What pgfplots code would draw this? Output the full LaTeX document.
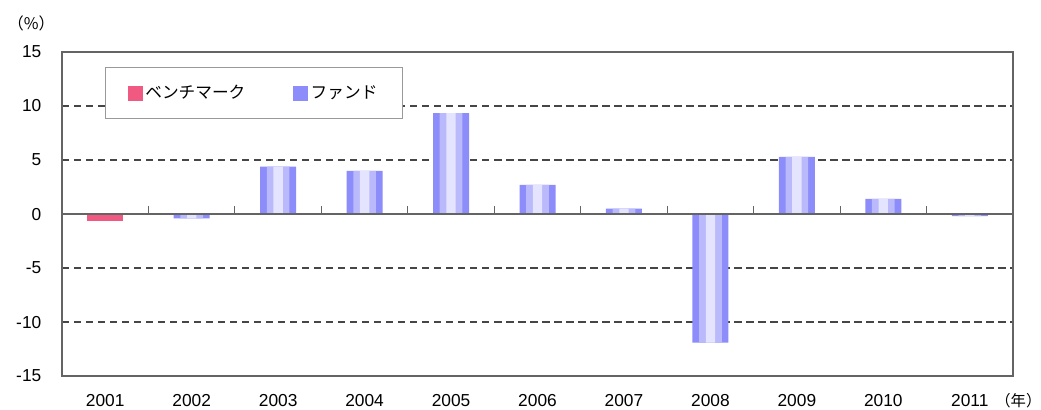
\documentclass[border=0pt]{standalone}
\usepackage{fontspec}
\setmainfont{Liberation Sans}
\newfontfamily\jp{Noto Sans CJK JP}
\usepackage{pgfplots}
\pgfplotsset{compat=1.18}

\definecolor{bench}{RGB}{240,90,130}
\definecolor{fundA}{RGB}{140,140,250}
\definecolor{fundB}{RGB}{185,185,252}
\definecolor{fundC}{RGB}{228,228,255}
\definecolor{fundM}{RGB}{170,170,250}
\definecolor{framec}{RGB}{100,100,100}
\definecolor{gridc}{RGB}{70,70,70}

\pgfplotstableread{
x y
1 -0.4
2 4.4
3 4.0
4 9.35
5 2.7
6 0.5
7 -11.9
8 5.3
9 1.4
10 -0.2
}\fund

\begin{document}
\begin{tikzpicture}
\pgfplotsset{base/.style={
    width=713pt, height=243pt, scale only axis,
    xmin=-0.5, xmax=10.5, ymin=-15, ymax=15}}
\begin{axis}[base, name=main,
    ybar, bar width=27pt, bar shift=0pt,
    ytick={-15,-10,...,15},
    xtick={0,...,10},
    xticklabels={2001,2002,2003,2004,2005,2006,2007,2008,2009,2010,2011},
    major tick length=0pt,
    ymajorgrids,
    grid style={gridc, line width=0.9pt, dash pattern=on 5.5pt off 3.5pt},
    axis line style={framec, line width=1pt},
    /pgf/number format/assume math mode=true,
    ticklabel style={font=\fontsize{13}{15}\selectfont},
    yticklabel style={xshift=-12pt},
    xticklabel style={yshift=-10.5pt},
    legend columns=2,
    legend image code/.code={\draw[#1, draw=none] (0pt,-5.5pt) rectangle (11pt,5.5pt);},
    legend style={at={(rel axis cs:0.045,0.954)}, anchor=north west,
        draw=gray!80, line width=0.8pt,
        inner xsep=17pt, inner ysep=11.5pt,
        font=\jp\fontsize{12.5}{14}\selectfont,
        /tikz/every even column/.append style={column sep=34pt}},
]
\addplot[draw=none, fill=bench] coordinates {(0,-0.6)};
\addlegendentry{ベンチマーク}
\addplot[draw=none, fill=fundA] table {\fund};
\addlegendentry{ファンド}
\addplot[draw=none, fill=fundB, bar width=17pt, forget plot] table {\fund};
\addplot[draw=none, fill=fundC, bar width=7pt, forget plot] table {\fund};
\end{axis}
\begin{axis}[base,
    axis x line=middle, hide y axis,
    axis line style={framec, line width=1pt, -},
    xtick={0.5,1.5,...,9.5}, xticklabels={},
    xtick style={framec, line width=0.8pt},
    major tick length=6pt, xtick align=inside,
]
\addplot[draw=none] coordinates {(0,0)};
\end{axis}
\node[font=\jp\fontsize{12}{14}\selectfont] at ([xshift=-23pt,yshift=21.75pt]main.north west) {（\%）};
\node[font=\jp\fontsize{11.5}{13}\selectfont] at ([xshift=4pt,yshift=-18.75pt]main.south east) {（年）};
\pgfresetboundingbox
\useasboundingbox ([xshift=-46.5pt,yshift=-24.75pt]main.south west) rectangle ([xshift=21pt,yshift=39pt]main.north east);
\end{tikzpicture}
\end{document}
